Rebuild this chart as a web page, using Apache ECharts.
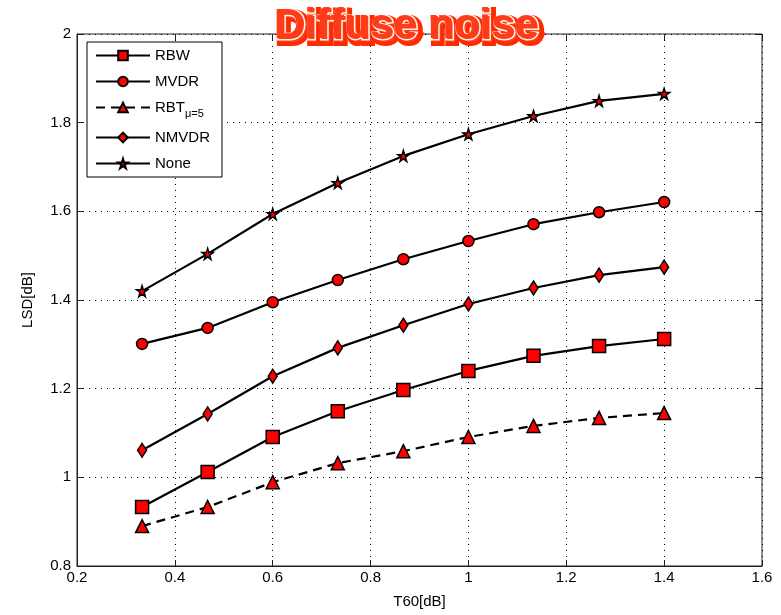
<!DOCTYPE html>
<html>
<head>
<meta charset="utf-8">
<script src="https://cdn.jsdelivr.net/npm/echarts@6/dist/echarts.min.js"></script>
<style>
  html, body { margin: 0; padding: 0; background: #fff; }
  #chart { width: 781px; height: 615px; }
</style>
</head>
<body>
<div id="chart"></div>
<script>
// T60 values (x axis)
var t60 = [0.333, 0.467, 0.6, 0.733, 0.867, 1.0, 1.133, 1.267, 1.4];
// LSD values per method
var rbw   = [0.933, 1.012, 1.091, 1.149, 1.197, 1.240, 1.274, 1.296, 1.312];
var mvdr  = [1.301, 1.337, 1.395, 1.445, 1.492, 1.533, 1.571, 1.598, 1.621];
var rbt   = [0.890, 0.933, 0.989, 1.032, 1.059, 1.091, 1.116, 1.134, 1.145];
var nmvdr = [1.061, 1.143, 1.228, 1.292, 1.343, 1.391, 1.427, 1.456, 1.474];
var none  = [1.420, 1.504, 1.594, 1.664, 1.725, 1.774, 1.815, 1.849, 1.865];

var star = 'path://M50,0 L61,35 L98,35 L68,57 L79,91 L50,70 L21,91 L32,57 L2,35 L39,35 Z';

function pairs(ys) {
    return t60.map(function(x, i) { return [x, ys[i]]; });
}

var fontName = "'Liberation Sans Narrow', 'Liberation Sans', Arial, sans-serif";
var titleFont = 'bold 42px "Liberation Sans", Arial, sans-serif';
var markStyle = { color: '#ff0000', borderColor: '#000', borderWidth: 1.5 };

function mk(name, data, symbol, size, dash) {
    return {
        name: name,
        type: 'line',
        data: pairs(data),
        symbol: symbol,
        symbolSize: size,
        showSymbol: true,
        lineStyle: { color: '#000', width: 2.2, type: dash ? [9, 6] : 'solid' },
        itemStyle: markStyle,
        emphasis: { disabled: true },
        z: 3
    };
}

var chart = echarts.init(document.getElementById('chart'));
chart.setOption({
    animation: false,
    backgroundColor: '#fff',
    grid: { left: 77, right: 19, top: 34, bottom: 49, show: true, borderColor: '#222', borderWidth: 1 },
    graphic: [
        { type: 'text', left: 274, top: 5, z: 10,
          style: { text: 'Diffuse noise', font: titleFont,
                   fill: '#ff3b1a', stroke: '#ff2a00', lineWidth: 8 } },
        { type: 'text', left: 274, top: 5, z: 11,
          style: { text: 'Diffuse noise', font: titleFont,
                   fill: '#ff3b1a', stroke: '#fff8e8', lineWidth: 3 } },
        { type: 'text', left: 274, top: 5, z: 12,
          style: { text: 'Diffuse noise', font: titleFont, fill: '#ff3b1a' } }
    ],
    legend: {
        orient: 'vertical',
        left: 87, top: 42,
        backgroundColor: '#fff',
        borderColor: '#000', borderWidth: 1,
        borderRadius: 0,
        padding: [6, 12, 6, 8],
        itemWidth: 54, itemHeight: 12, itemGap: 11,
        textStyle: { fontFamily: fontName, fontSize: 15, color: '#000',
            rich: {
                s: { fontFamily: fontName, fontSize: 11, color: '#000', padding: [12, 0, 0, 0] }
            }
        },
        formatter: function(name) {
            return name === 'RBT' ? 'RBT{s|μ=5}' : name;
        },
        data: ['RBW', 'MVDR', 'RBT', 'NMVDR', 'None']
    },
    xAxis: [{
        type: 'value', min: 0.2, max: 1.6, interval: 0.2,
        name: 'T60[dB]', nameLocation: 'middle', nameGap: 28,
        nameTextStyle: { fontFamily: fontName, fontSize: 15, color: '#000' },
        axisLine: { lineStyle: { color: '#222', width: 1 } },
        axisTick: { inside: true, length: 6, lineStyle: { color: '#222' } },
        axisLabel: { fontFamily: fontName, fontSize: 15, color: '#000', margin: 4,
            formatter: function(v) { return String(+v.toFixed(1)); } },
        splitLine: { show: true, lineStyle: { color: '#000', type: [1, 5], width: 1 } }
    }, {
        type: 'value', min: 0.2, max: 1.6, interval: 0.2, position: 'top',
        axisLine: { show: false }, axisLabel: { show: false },
        axisTick: { inside: true, length: 6, lineStyle: { color: '#222' } },
        splitLine: { show: false }
    }],
    yAxis: [{
        type: 'value', min: 0.8, max: 2, interval: 0.2,
        name: 'LSD[dB]', nameLocation: 'middle', nameGap: 42, nameRotate: 90,
        nameTextStyle: { fontFamily: fontName, fontSize: 15, color: '#000' },
        axisLine: { show: true, lineStyle: { color: '#222', width: 1 } },
        axisTick: { inside: true, length: 6, lineStyle: { color: '#222' } },
        axisLabel: { fontFamily: fontName, fontSize: 15, color: '#000', margin: 6,
            formatter: function(v) { return String(+v.toFixed(1)); } },
        splitLine: { show: true, lineStyle: { color: '#000', type: [1, 5], width: 1 } }
    }, {
        type: 'value', min: 0.8, max: 2, interval: 0.2, position: 'right',
        axisLine: { show: false }, axisLabel: { show: false },
        axisTick: { inside: true, length: 6, lineStyle: { color: '#222' } },
        splitLine: { show: false }
    }],
    series: [
        mk('RBW', rbw, 'rect', 13, false),
        mk('MVDR', mvdr, 'circle', 11, false),
        mk('RBT', rbt, 'triangle', 13, true),
        mk('NMVDR', nmvdr, 'diamond', [9, 14], false),
        mk('None', none, star, 11, false)
    ]
});
</script>
</body>
</html>
